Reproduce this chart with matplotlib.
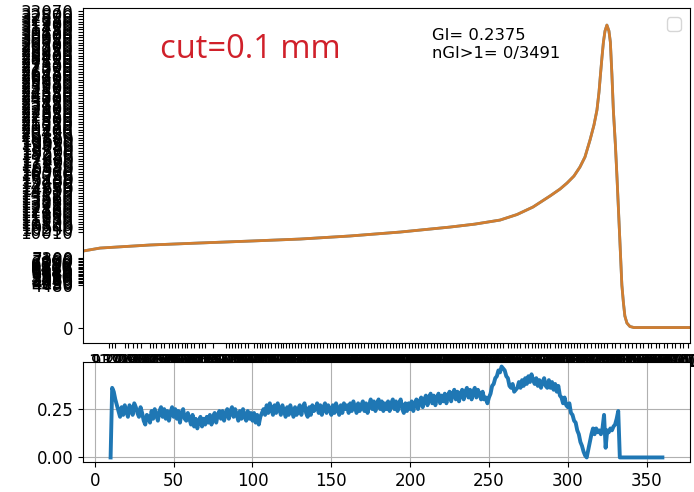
import numpy as np
import matplotlib
matplotlib.use("Agg")
import matplotlib.pyplot as plt

# ---- upper panel: profile curve ----
profile_x = [-7.5, 3.3, 35.0, 66.7, 98.4, 130.1, 161.8, 193.6, 225.3, 241.1,
             257.0, 267.8, 277.9, 288.7, 295.1, 299.5, 303.9, 307.7, 310.9, 314.1,
             316.6, 318.5, 319.8, 320.7, 321.7, 322.6, 323.6, 324.8, 326.1, 327.0,
             328.0, 328.9, 330.2, 331.2, 333.1, 334.3, 335.3, 336.2, 337.5, 339.4,
             342.0, 377.5]
profile_y = [8030, 8340, 8660, 8870, 9070, 9280, 9600, 10010, 10530, 10840,
             11260, 11840, 12620, 13770, 14500, 15120, 15850, 16790, 17840, 19610,
             21170, 22740, 24610, 26390, 28270, 29830, 30980, 31600, 30980, 29830,
             26390, 22740, 19090, 15750, 8870, 4480, 2610, 1250, 520, 160,
             50, 50]

# tick positions on the upper panel
top_yticks = [0,
              4480, 4650, 4790, 4920, 5080, 5230, 5390, 5510, 5680, 5840,
              5970, 6130, 6290, 6410, 6580, 6720, 6890, 7030, 7180, 7300,
              10010, 10290, 10540, 10830, 11100, 11370, 11650, 11900, 12180, 12460,
              12730, 13010, 13280, 13560, 13820, 14110, 14380, 14650, 14930, 15200,
              15480, 15750, 16020, 16300, 16570, 16850, 17120, 17400, 17670, 17950,
              18220, 18500, 18770, 19050, 19320, 19600, 19870, 20150, 20420, 20700,
              20970, 21250, 21520, 21800, 22070, 22350, 22620, 22900, 23170, 23450,
              23720, 24000, 24270, 24550, 24820, 25100, 25370, 25650, 25920, 26200,
              26470, 26750, 27020, 27300, 27570, 27850, 28120, 28400, 28670, 28950,
              29220, 29500, 29770, 30050, 30320, 30600, 30870, 31150, 31420, 31700,
              31970, 32250, 32520, 32800, 33070]
top_xticks = [9, 11, 13, 19, 21, 24, 26.5, 29, 35, 37, 38.5, 42, 44, 47, 49, 51,
              53, 55, 57, 58.5, 61, 63, 66, 68, 70, 75, 83, 85, 87, 89, 91, 93, 95,
              97, 101, 103, 104.5, 106, 108, 110, 112, 114, 116, 118, 119.5, 121, 123,
              125, 127, 129, 131, 133, 135, 137, 139, 141, 143, 145, 147, 149, 151,
              153, 155, 157, 159, 161, 163, 165, 167, 169, 171, 173, 175, 177, 179,
              181, 183, 185, 187, 189, 191, 193, 195, 197, 199, 201, 203, 205, 207,
              209, 211, 213, 215, 217, 219, 221, 223, 225, 227, 229, 231, 233, 235,
              237, 239, 241, 243, 245, 247, 249, 251, 253, 255, 257, 259, 262, 264,
              266, 268, 270, 273, 275, 277, 279, 281, 283, 285, 287, 289, 292, 294,
              296, 298, 300, 302, 304, 306, 308, 310, 312, 315, 317, 319, 321, 323,
              325, 328, 330, 333, 336, 338, 341, 343, 346, 348, 351, 353, 356, 358,
              361, 363, 366, 368, 371, 373, 376]

cut_label = "cut=0.1 mm"
gi_value = 0.2375
n_over = 0
n_total = 3491

# ---- lower panel: GI along the profile ----
gi_start = 10
gi_values = [
    0.00, 0.36, 0.34, 0.30, 0.27, 0.24, 0.21, 0.26, 0.22, 0.27,
    0.24, 0.21, 0.27, 0.25, 0.22, 0.28, 0.26, 0.23, 0.21, 0.26,
    0.23, 0.19, 0.17, 0.22, 0.21, 0.18, 0.24, 0.20, 0.25, 0.22,
    0.19, 0.24, 0.26, 0.21, 0.25, 0.20, 0.24, 0.19, 0.23, 0.26,
    0.21, 0.25, 0.20, 0.24, 0.18, 0.23, 0.25, 0.20, 0.19, 0.23,
    0.20, 0.17, 0.22, 0.16, 0.20, 0.15, 0.19, 0.21, 0.16, 0.20,
    0.17, 0.21, 0.18, 0.22, 0.17, 0.21, 0.23, 0.18, 0.22, 0.24,
    0.20, 0.24, 0.19, 0.23, 0.25, 0.20, 0.24, 0.26, 0.21, 0.25,
    0.22, 0.19, 0.24, 0.20, 0.25, 0.21, 0.19, 0.24, 0.20, 0.23,
    0.19, 0.23, 0.18, 0.22, 0.17, 0.21, 0.23, 0.25, 0.22, 0.27,
    0.23, 0.28, 0.25, 0.22, 0.27, 0.23, 0.28, 0.25, 0.22, 0.27,
    0.24, 0.21, 0.26, 0.22, 0.27, 0.24, 0.21, 0.26, 0.22, 0.25,
    0.27, 0.22, 0.26, 0.28, 0.23, 0.21, 0.26, 0.22, 0.27, 0.24,
    0.25, 0.28, 0.23, 0.27, 0.22, 0.26, 0.28, 0.23, 0.27, 0.25,
    0.22, 0.27, 0.23, 0.28, 0.25, 0.22, 0.27, 0.23, 0.28, 0.25,
    0.27, 0.23, 0.28, 0.24, 0.29, 0.26, 0.23, 0.28, 0.24, 0.27,
    0.29, 0.24, 0.28, 0.23, 0.27, 0.30, 0.25, 0.29, 0.24, 0.28,
    0.30, 0.25, 0.29, 0.24, 0.28, 0.25, 0.29, 0.24, 0.28, 0.30,
    0.25, 0.29, 0.24, 0.28, 0.30, 0.25, 0.23, 0.28, 0.24, 0.28,
    0.25, 0.29, 0.24, 0.28, 0.30, 0.25, 0.29, 0.31, 0.26, 0.30,
    0.32, 0.27, 0.31, 0.33, 0.28, 0.32, 0.27, 0.31, 0.33, 0.28,
    0.32, 0.29, 0.33, 0.28, 0.32, 0.34, 0.29, 0.33, 0.35, 0.30,
    0.34, 0.29, 0.33, 0.35, 0.30, 0.34, 0.36, 0.31, 0.35, 0.30,
    0.34, 0.36, 0.31, 0.35, 0.33, 0.30, 0.34, 0.30, 0.31, 0.28,
    0.31, 0.33, 0.37, 0.38, 0.41, 0.42, 0.45, 0.44, 0.47, 0.46,
    0.45, 0.42, 0.41, 0.37, 0.36, 0.38, 0.34, 0.35, 0.36, 0.39,
    0.36, 0.40, 0.37, 0.41, 0.38, 0.42, 0.39, 0.43, 0.40, 0.38,
    0.41, 0.37, 0.40, 0.36, 0.39, 0.41, 0.37, 0.36, 0.40, 0.36,
    0.39, 0.35, 0.38, 0.34, 0.37, 0.32, 0.31, 0.28, 0.31, 0.27,
    0.26, 0.28, 0.23, 0.22, 0.19, 0.18, 0.14, 0.12, 0.08, 0.06,
    0.03, 0.01, 0.00, 0.04, 0.08, 0.12, 0.15, 0.12, 0.15, 0.13,
    0.14, 0.12, 0.15, 0.22, 0.05, 0.14, 0.13, 0.15, 0.14, 0.16,
    0.17, 0.20, 0.24, 0.00,
]
gi_tail_x = [360]
gi_tail_y = [0.00]

gi_x = list(gi_start + np.arange(len(gi_values))) + gi_tail_x
gi_y = gi_values + gi_tail_y

fig = plt.figure(figsize=(6.94, 4.92), dpi=100)
ax1 = fig.add_axes([0.1196, 0.3028, 0.8746, 0.6809])
ax2 = fig.add_axes([0.1196, 0.0610, 0.8746, 0.2032])

# upper panel
ax1.plot(profile_x, profile_y, color="#1f77b4", lw=2.0)
ax1.plot(profile_x, profile_y, color="#ff7f0e", lw=2.0, alpha=0.8)
ax1.set_xlim(-7.5, 377.5)
ax1.set_ylim(-1565, 33380)
ax1.set_yticks(top_yticks)
ax1.set_yticklabels([str(v) for v in top_yticks], fontsize=12)
ax1.set_xticks(top_xticks)
ax1.set_xticklabels([f"{v:.2f}" for v in top_xticks], fontsize=12)
ax1.text(0.127, 0.875, cut_label, transform=ax1.transAxes, color="#d0202a",
         fontsize=23.5, family="Open Sans", ha="left", va="center")
ax1.text(0.575, 0.94, f"GI= {gi_value}\nnGI>1= {n_over}/{n_total}",
         transform=ax1.transAxes, fontsize=11.8, ha="left", va="top",
         linespacing=1.2)
ax1.legend(handles=[], loc="upper right", fontsize=13)

# lower panel
ax2.plot(gi_x, gi_y, color="#1f77b4", lw=2.8)
ax2.set_xlim(-7.5, 377.5)
ax2.set_yticks([0.0, 0.25])
ax2.set_yticklabels(["0.00", "0.25"])
ax2.tick_params(labelsize=12)
ax2.grid(True, color="#b0b0b0", lw=0.8)

fig.savefig("out.png", dpi=100)
